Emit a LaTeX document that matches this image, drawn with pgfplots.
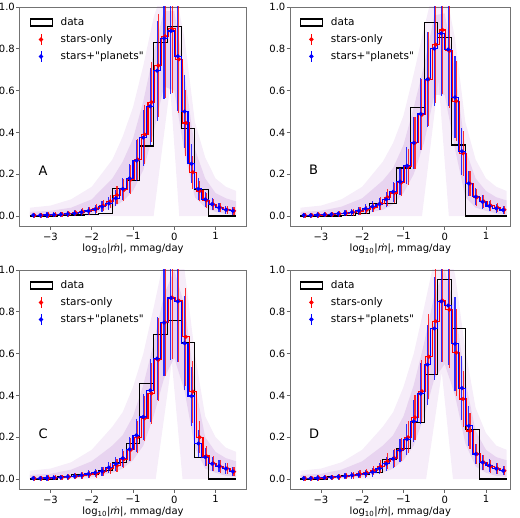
\documentclass[border=0pt]{standalone}
\usepackage{fontspec}
\setmainfont{DejaVu Sans}
\usepackage{pgfplots}
\usepackage{pgfplotstable}
\pgfplotsset{compat=1.18}
\definecolor{haze}{RGB}{150,60,185}
\definecolor{mplred}{RGB}{255,0,0}
\definecolor{mplblue}{RGB}{0,0,255}

% columns: bin centre (blue), shifted centre (red), red value/err, blue value/err
\pgfplotstableread{
xb xr yr er yb eb
-3.417 -3.387 .003 .011 .004 .011
-3.250 -3.220 .004 .011 .004 .011
-3.083 -3.053 .005 .012 .005 .012
-2.917 -2.887 .006 .012 .006 .012
-2.750 -2.720 .008 .013 .008 .013
-2.583 -2.553 .011 .014 .010 .013
-2.417 -2.387 .015 .015 .013 .014
-2.250 -2.220 .020 .017 .018 .016
-2.083 -2.053 .026 .019 .024 .018
-1.917 -1.887 .035 .022 .032 .021
-1.750 -1.720 .050 .027 .045 .025
-1.583 -1.553 .070 .033 .060 .030
-1.417 -1.387 .100 .043 .085 .038
-1.250 -1.220 .125 .051 .130 .053
-1.083 -1.053 .175 .068 .180 .069
-0.917 -0.887 .270 .099 .265 .097
-0.750 -0.720 .390 .139 .375 .134
-0.583 -0.553 .545 .190 .525 .183
-0.417 -0.387 .720 .248 .695 .239
-0.250 -0.220 .860 .294 .850 .291
-0.083 -0.053 .895 .305 .885 .302
0.083 0.113 .750 .258 .765 .262
0.250 0.280 .445 .157 .500 .175
0.417 0.447 .210 .079 .250 .093
0.583 0.613 .120 .050 .130 .053
0.750 0.780 .075 .035 .080 .036
0.917 0.947 .055 .028 .057 .029
1.083 1.113 .040 .023 .040 .023
1.250 1.280 .030 .020 .030 .020
1.417 1.447 .025 .018 .025 .018
}\tabA
\pgfplotstableread{
xb xr yr er yb eb
-3.417 -3.387 .003 .011 .004 .011
-3.250 -3.220 .004 .011 .004 .011
-3.083 -3.053 .005 .012 .005 .012
-2.917 -2.887 .006 .012 .006 .012
-2.750 -2.720 .008 .013 .008 .013
-2.583 -2.553 .011 .014 .011 .014
-2.417 -2.387 .014 .015 .014 .015
-2.250 -2.220 .018 .016 .018 .016
-2.083 -2.053 .024 .018 .025 .018
-1.917 -1.887 .030 .020 .035 .022
-1.750 -1.720 .040 .023 .045 .025
-1.583 -1.553 .060 .030 .057 .029
-1.417 -1.387 .090 .040 .080 .036
-1.250 -1.220 .110 .046 .116 .048
-1.083 -1.053 .160 .063 .164 .064
-0.917 -0.887 .235 .088 .240 .089
-0.750 -0.720 .350 .126 .350 .126
-0.583 -0.553 .485 .170 .488 .171
-0.417 -0.387 .655 .226 .654 .226
-0.250 -0.220 .820 .281 .800 .274
-0.083 -0.053 .890 .304 .874 .298
0.083 0.113 .790 .271 .797 .273
0.250 0.280 .550 .192 .568 .197
0.417 0.447 .300 .109 .310 .112
0.583 0.613 .155 .061 .156 .061
0.750 0.780 .090 .040 .092 .040
0.917 0.947 .070 .033 .068 .032
1.083 1.113 .050 .027 .048 .026
1.250 1.280 .040 .023 .037 .022
1.417 1.447 .030 .020 .029 .020
}\tabB
\pgfplotstableread{
xb xr yr er yb eb
-3.417 -3.387 .003 .011 .004 .011
-3.250 -3.220 .004 .011 .004 .011
-3.083 -3.053 .005 .012 .005 .012
-2.917 -2.887 .006 .012 .006 .012
-2.750 -2.720 .008 .013 .008 .013
-2.583 -2.553 .010 .013 .011 .014
-2.417 -2.387 .013 .014 .014 .015
-2.250 -2.220 .017 .016 .018 .016
-2.083 -2.053 .021 .017 .024 .018
-1.917 -1.887 .025 .018 .030 .020
-1.750 -1.720 .035 .022 .037 .022
-1.583 -1.553 .050 .027 .055 .028
-1.417 -1.387 .065 .031 .073 .034
-1.250 -1.220 .095 .041 .100 .043
-1.083 -1.053 .140 .056 .142 .057
-0.917 -0.887 .200 .076 .209 .079
-0.750 -0.720 .290 .106 .297 .108
-0.583 -0.553 .410 .145 .424 .150
-0.417 -0.387 .570 .198 .576 .200
-0.250 -0.220 .750 .258 .748 .257
-0.083 -0.053 .868 .296 .866 .296
0.083 0.113 .853 .291 .850 .291
0.250 0.280 .680 .234 .650 .225
0.417 0.447 .418 .148 .397 .141
0.583 0.613 .200 .076 .170 .066
0.750 0.780 .110 .046 .105 .045
0.917 0.947 .075 .035 .073 .034
1.083 1.113 .060 .030 .062 .030
1.250 1.280 .050 .027 .050 .027
1.417 1.447 .035 .022 .037 .022
}\tabC
\pgfplotstableread{
xb xr yr er yb eb
-3.417 -3.387 .003 .011 .004 .011
-3.250 -3.220 .004 .011 .004 .011
-3.083 -3.053 .005 .012 .005 .012
-2.917 -2.887 .006 .012 .006 .012
-2.750 -2.720 .008 .013 .008 .013
-2.583 -2.553 .011 .014 .011 .014
-2.417 -2.387 .014 .015 .014 .015
-2.250 -2.220 .018 .016 .018 .016
-2.083 -2.053 .024 .018 .020 .017
-1.917 -1.887 .030 .020 .025 .018
-1.750 -1.720 .040 .023 .033 .021
-1.583 -1.553 .060 .030 .050 .027
-1.417 -1.387 .085 .038 .073 .034
-1.250 -1.220 .100 .043 .097 .042
-1.083 -1.053 .140 .056 .137 .055
-0.917 -0.887 .200 .076 .190 .073
-0.750 -0.720 .295 .107 .276 .101
-0.583 -0.553 .420 .149 .408 .145
-0.417 -0.387 .585 .203 .547 .191
-0.250 -0.220 .755 .259 .720 .248
-0.083 -0.053 .853 .291 .850 .291
0.083 0.113 .810 .277 .830 .284
0.250 0.280 .605 .210 .647 .224
0.417 0.447 .383 .136 .435 .154
0.583 0.613 .230 .086 .254 .094
0.750 0.780 .120 .050 .120 .050
0.917 0.947 .080 .036 .080 .036
1.083 1.113 .060 .030 .065 .031
1.250 1.280 .050 .027 .050 .027
1.417 1.447 .040 .023 .040 .023
}\tabD

\pgfplotsset{
  panel/.style={scale only axis, height=219.5pt,
    ymin=-0.05, ymax=1.0, xmin=-3.75,
    axis line style={black!55, line width=0.7pt},
    tick align=outside, tick pos=left, major tick length=3.5pt,
    tick style={black!60, line width=0.7pt},
    xtick={-3,-2,-1,0,1}, xticklabels={−3,−2,−1,0,1},
    ytick={0,0.2,0.4,0.6,0.8,1.0}, yticklabels={0.0,0.2,0.4,0.6,0.8,1.0},
    tick label style={font=\fontsize{10}{12}\selectfont},
    yticklabel style={inner sep=1pt},
    xticklabel style={inner sep=2.5pt},
    xlabel={log\textsubscript{10}|\textit{ṁ}|, mmag/day},
    label style={font=\fontsize{10}{12}\selectfont},
    xlabel style={yshift=2.5pt},
    legend style={draw=none, fill=none, at={(0.03,0.97)}, anchor=north west,
      font=\fontsize{10.5}{12}\selectfont, row sep=3.5pt},
    legend cell align=left},
  hist/.style={const plot mark left, black, line width=1.1pt, mark=none,
    legend image code/.code={\draw[black,line width=1.1pt] (0pt,-3.5pt) rectangle (22pt,3.5pt); \path (28pt,0pt);}},
  errs/.style={const plot mark mid, line width=1.1pt, mark=*, mark size=1.5pt,
    error bars/y dir=both, error bars/y explicit, error bars/error mark=none,
    error bars/error bar style={line width=1.1pt, opacity=0.8}},
  redleg/.style={legend image code/.code={\draw[mplred,line width=1.1pt] (11pt,-5.5pt) -- (11pt,5.5pt); \fill[mplred] (11pt,0pt) circle (1.6pt); \path (0pt,0pt) (28pt,0pt);}},
  blueleg/.style={legend image code/.code={\draw[mplblue,line width=1.1pt] (11pt,-5.5pt) -- (11pt,5.5pt); \fill[mplblue] (11pt,0pt) circle (1.6pt); \path (0pt,0pt) (28pt,0pt);}},
  outer/.style={draw=none, fill=haze, fill opacity=0.09, forget plot},
  dense/.style={draw=none, fill=haze, fill opacity=0.14, forget plot},
}

\begin{document}
\begin{tikzpicture}
\useasboundingbox (0,0) rectangle (520pt,518pt);

% ---------------- A ----------------
\begin{axis}[panel, at={(19.5pt,291.5pt)}, anchor=south west, width=227pt, xmax=1.75]
\addplot[outer] coordinates {(-3.5,0) (-3.5,0.04) (-3,0.05) (-2.5,0.08) (-2,0.14) (-1.5,0.27) (-1.25,0.38) (-1,0.52) (-0.75,0.72) (-0.5,0.95) (-0.25,1.1) (0,1.1) (0.25,0.85) (0.5,0.45) (0.75,0.28) (1,0.18) (1.25,0.14) (1.5,0.12) (1.5,0) (0.12,0) (-0.1,0.62) (-0.5,0)} -- cycle;
\addplot[dense] coordinates {(-3.5,0.02) (-3,0.025) (-2.5,0.04) (-2,0.08) (-1.5,0.18) (-1.25,0.26) (-1,0.37) (-0.75,0.55) (-0.5,0.78) (-0.25,0.98) (0,0.98) (0.25,0.68) (0.5,0.32) (0.75,0.18) (1,0.11) (1.25,0.085) (1.5,0.07) (1.5,0.005) (1.25,0.01) (1,0.02) (0.75,0.04) (0.5,0.09) (0.25,0.3) (0,0.6) (-0.25,0.62) (-0.5,0.4) (-0.75,0.22) (-1,0.12) (-1.25,0.07) (-1.5,0.04) (-2,0.01) (-2.5,0.003) (-3,0) (-3.5,0)} -- cycle;
\addplot[hist] coordinates {(-3.5,0) (-3.167,0) (-2.833,0.003) (-2.5,0.005) (-2.167,0.008) (-1.833,0.01) (-1.5,0.13) (-1.167,0.17) (-0.833,0.335) (-0.5,0.83) (-0.167,0.905) (0.167,0.42) (0.5,0.125) (0.833,0) (1.167,0) (1.5,0)};
\addlegendentry{data}
\addplot[mplred, redleg, errs] table[x=xr, y=yr, y error=er] {\tabA};
\addlegendentry{stars-only}
\addplot[mplblue, blueleg, errs] table[x=xb, y=yb, y error=eb] {\tabA};
\addlegendentry{stars+\textquotedbl planets\textquotedbl}
\node[font=\fontsize{13}{15}\selectfont, anchor=west] at (axis cs:-3.37,0.215) {A};
\end{axis}

% ---------------- B ----------------
\begin{axis}[panel, at={(290pt,291.5pt)}, anchor=south west, width=220.7pt, xmax=1.6]
\addplot[outer] coordinates {(-3.5,0) (-3.5,0.04) (-3,0.05) (-2.5,0.08) (-2,0.14) (-1.5,0.26) (-1.25,0.35) (-1,0.48) (-0.75,0.68) (-0.5,0.9) (-0.25,1.1) (0,1.1) (0.25,0.85) (0.5,0.45) (0.75,0.27) (1,0.18) (1.25,0.14) (1.5,0.12) (1.5,0) (0.1,0) (-0.15,0.65) (-0.55,0)} -- cycle;
\addplot[dense] coordinates {(-3.5,0.02) (-3,0.025) (-2.5,0.045) (-2,0.085) (-1.5,0.17) (-1.25,0.23) (-1,0.34) (-0.75,0.52) (-0.5,0.72) (-0.25,0.96) (0,0.97) (0.25,0.7) (0.5,0.32) (0.75,0.18) (1,0.12) (1.25,0.09) (1.5,0.075) (1.5,0.006) (1.25,0.012) (1,0.025) (0.75,0.04) (0.5,0.09) (0.25,0.32) (0,0.58) (-0.25,0.58) (-0.5,0.35) (-0.75,0.2) (-1,0.11) (-1.25,0.055) (-1.5,0.03) (-2,0.01) (-2.5,0.004) (-3,0) (-3.5,0)} -- cycle;
\addplot[hist] coordinates {(-3.5,0) (-3.167,0) (-2.833,0) (-2.5,0.003) (-2.167,0.012) (-1.833,0.06) (-1.5,0.06) (-1.167,0.23) (-0.833,0.52) (-0.5,0.925) (-0.167,0.855) (0.167,0.34) (0.5,0) (0.833,0) (1.167,0) (1.5,0)};
\addlegendentry{data}
\addplot[mplred, redleg, errs] table[x=xr, y=yr, y error=er] {\tabB};
\addlegendentry{stars-only}
\addplot[mplblue, blueleg, errs] table[x=xb, y=yb, y error=eb] {\tabB};
\addlegendentry{stars+\textquotedbl planets\textquotedbl}
\node[font=\fontsize{13}{15}\selectfont, anchor=west] at (axis cs:-3.37,0.22) {B};
\end{axis}

% ---------------- C ----------------
\begin{axis}[panel, at={(19.5pt,28.5pt)}, anchor=south west, width=227pt, xmax=1.75]
\addplot[outer] coordinates {(-3.5,0) (-3.5,0.04) (-3,0.05) (-2.5,0.08) (-2,0.14) (-1.5,0.25) (-1.25,0.32) (-1,0.44) (-0.75,0.6) (-0.5,0.82) (-0.25,1.05) (0,1.15) (0.25,1.0) (0.5,0.6) (0.75,0.3) (1,0.2) (1.25,0.15) (1.5,0.13) (1.5,0) (0.2,0) (-0.06,0.56) (-0.45,0)} -- cycle;
\addplot[dense] coordinates {(-3.5,0.02) (-3,0.025) (-2.5,0.045) (-2,0.085) (-1.5,0.16) (-1.25,0.21) (-1,0.3) (-0.75,0.45) (-0.5,0.65) (-0.25,0.88) (0,1.0) (0.25,0.83) (0.5,0.45) (0.75,0.2) (1,0.13) (1.25,0.1) (1.5,0.085) (1.5,0.01) (1.25,0.015) (1,0.03) (0.75,0.05) (0.5,0.15) (0.25,0.42) (0,0.58) (-0.25,0.48) (-0.5,0.3) (-0.75,0.16) (-1,0.09) (-1.25,0.05) (-1.5,0.03) (-2,0.01) (-2.5,0.004) (-3,0) (-3.5,0)} -- cycle;
\addplot[hist] coordinates {(-3.5,0) (-3.167,0) (-2.833,0.01) (-2.5,0.02) (-2.167,0.02) (-1.833,0.04) (-1.5,0.08) (-1.167,0.17) (-0.833,0.455) (-0.5,0.69) (-0.167,0.76) (0.167,0.655) (0.5,0.105) (0.833,0) (1.167,0) (1.5,0)};
\addlegendentry{data}
\addplot[mplred, redleg, errs] table[x=xr, y=yr, y error=er] {\tabC};
\addlegendentry{stars-only}
\addplot[mplblue, blueleg, errs] table[x=xb, y=yb, y error=eb] {\tabC};
\addlegendentry{stars+\textquotedbl planets\textquotedbl}
\node[font=\fontsize{13}{15}\selectfont, anchor=west] at (axis cs:-3.37,0.215) {C};
\end{axis}

% ---------------- D ----------------
\begin{axis}[panel, at={(290pt,28.5pt)}, anchor=south west, width=220.7pt, xmax=1.6]
\addplot[outer] coordinates {(-3.5,0) (-3.5,0.04) (-3,0.05) (-2.5,0.08) (-2,0.14) (-1.5,0.25) (-1.25,0.32) (-1,0.44) (-0.75,0.6) (-0.5,0.82) (-0.25,1.05) (0,1.15) (0.25,0.98) (0.5,0.62) (0.75,0.34) (1,0.22) (1.25,0.16) (1.5,0.14) (1.5,0) (0.2,0) (-0.07,0.51) (-0.45,0)} -- cycle;
\addplot[dense] coordinates {(-3.5,0.02) (-3,0.025) (-2.5,0.045) (-2,0.085) (-1.5,0.16) (-1.25,0.21) (-1,0.3) (-0.75,0.45) (-0.5,0.65) (-0.25,0.88) (0,1.0) (0.25,0.82) (0.5,0.47) (0.75,0.23) (1,0.14) (1.25,0.105) (1.5,0.09) (1.5,0.01) (1.25,0.015) (1,0.03) (0.75,0.06) (0.5,0.17) (0.25,0.4) (0,0.55) (-0.25,0.48) (-0.5,0.3) (-0.75,0.16) (-1,0.09) (-1.25,0.05) (-1.5,0.03) (-2,0.01) (-2.5,0.004) (-3,0) (-3.5,0)} -- cycle;
\addplot[hist] coordinates {(-3.5,0) (-3.167,0) (-2.833,0.01) (-2.5,0.015) (-2.167,0.02) (-1.833,0.03) (-1.5,0.095) (-1.167,0.145) (-0.833,0.27) (-0.5,0.5) (-0.167,0.955) (0.167,0.72) (0.5,0.235) (0.833,0) (1.167,0) (1.5,0)};
\addlegendentry{data}
\addplot[mplred, redleg, errs] table[x=xr, y=yr, y error=er] {\tabD};
\addlegendentry{stars-only}
\addplot[mplblue, blueleg, errs] table[x=xb, y=yb, y error=eb] {\tabD};
\addlegendentry{stars+\textquotedbl planets\textquotedbl}
\node[font=\fontsize{13}{15}\selectfont, anchor=west] at (axis cs:-3.37,0.215) {D};
\end{axis}
\end{tikzpicture}
\end{document}
